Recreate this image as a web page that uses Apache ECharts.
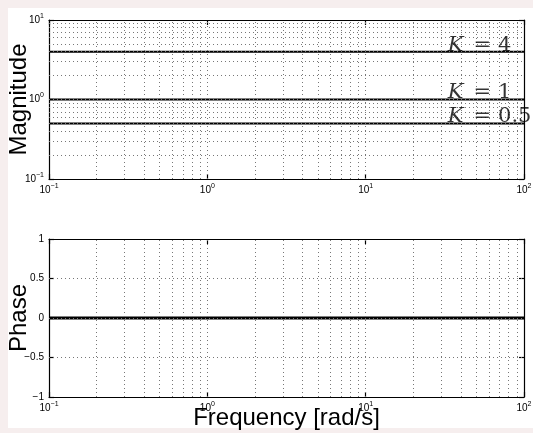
<!DOCTYPE html>
<html lang="en">
<head>
	<meta charset="UTF-8">
	<script src="https://cdn.jsdelivr.net/npm/echarts@6/dist/echarts.min.js"></script>
	<style>
		html, body { margin: 0; padding: 0; background: #f6eeee; }
		#main { width: 533px; height: 433px; }
	</style>
</head>
<body>
	<div id="main"></div>
	<script>
		// data
		var freq = [0.1, 100];
		var gains = [4, 1, 0.5];
		var gainText = ['4', '1', '0.5'];
		var labelFreq = 33;
		var phase = [0, 0];

		// grid positions (dotted lines like matlab "grid on")
		var gridFreq = [0.2, 0.3, 0.4, 0.5, 0.6, 0.7, 0.8, 0.9, 1, 2, 3, 4, 5, 6, 7, 8, 9, 10, 20, 30, 40, 50, 60, 70, 80, 90];
		var gridMag = [0.2, 0.3, 0.4, 0.5, 0.6, 0.7, 0.8, 0.9, 1, 2, 3, 4, 5, 6, 7, 8, 9];
		var gridPhase = [-0.5, 0, 0.5];

		var chart = echarts.init(document.getElementById('main'));

		var dotted = { color: '#777', width: 1, type: [1, 3] };
		var black = { color: '#000', width: 1.2 };

		function pow10(v) {
			var e = Math.round(Math.log(v) / Math.LN10);
			return '{b|10}{s|' + (e < 0 ? '\u2212' + (-e) : e) + '}';
		}
		function signed(v) {
			return v < 0 ? '\u2212' + (-v) : String(v);
		}
		var tickRich = {
			b: { fontSize: 10, fontFamily: 'Liberation Sans', color: '#000' },
			s: { fontSize: 7, fontFamily: 'Liberation Sans', color: '#000', padding: [0, 0, 8, 0] }
		};

		function xAx(grid, pos, labels) {
			return {
				type: 'log', logBase: 10, min: 0.1, max: 100, gridIndex: grid, position: pos,
				splitNumber: 3,
				axisLine: { show: true, onZero: false, lineStyle: black },
				axisTick: { show: true, inside: true, length: 5, lineStyle: black },
				axisLabel: { show: labels, margin: 4, formatter: pow10, rich: tickRich },
				splitLine: { show: false }
			};
		}

		var nameStyle = { fontSize: 24, fontFamily: 'Liberation Sans', color: '#000' };

		var option = {
			animation: false,
			backgroundColor: '#f6eeee',
			graphic: [{
				type: 'rect', z: -10, silent: true,
				shape: { x: 8, y: 8, width: 525, height: 420 },
				style: { fill: '#fff' }
			}],
			grid: [
				{ left: 49, top: 20, width: 475, height: 159, containLabel: false, outerBoundsMode: 'none' },
				{ left: 49, top: 239, width: 475, height: 158, containLabel: false, outerBoundsMode: 'none' }
			],
			xAxis: [
				xAx(0, 'bottom', true),
				xAx(0, 'top', false),
				Object.assign(xAx(1, 'bottom', true), {
					name: 'Frequency [rad/s]', nameLocation: 'middle', nameGap: 9,
					nameMoveOverlap: false, nameTextStyle: nameStyle
				}),
				xAx(1, 'top', false)
			],
			yAxis: [
				{
					type: 'log', logBase: 10, min: 0.1, max: 10, gridIndex: 0, position: 'left',
					name: 'Magnitude', nameLocation: 'middle', nameGap: 18, nameRotate: 90,
					nameMoveOverlap: false, nameTextStyle: nameStyle,
					axisLine: { show: true, lineStyle: black },
					axisTick: { show: true, inside: true, length: 5, lineStyle: black },
					axisLabel: { margin: 5, formatter: pow10, rich: tickRich },
					splitLine: { show: false }
				},
				{
					type: 'log', logBase: 10, min: 0.1, max: 10, gridIndex: 0, position: 'right',
					axisLine: { show: true, lineStyle: black },
					axisTick: { show: true, inside: true, length: 5, lineStyle: black },
					axisLabel: { show: false },
					splitLine: { show: false }
				},
				{
					type: 'value', min: -1, max: 1, interval: 0.5, gridIndex: 1, position: 'left',
					name: 'Phase', nameLocation: 'middle', nameGap: 18, nameRotate: 90,
					nameMoveOverlap: false, nameTextStyle: nameStyle,
					axisLine: { show: true, onZero: false, lineStyle: black },
					axisTick: { show: true, inside: true, length: 5, lineStyle: black },
					axisLabel: { margin: 5, formatter: signed, fontSize: 10, fontFamily: 'Liberation Sans', color: '#000' },
					splitLine: { show: false }
				},
				{
					type: 'value', min: -1, max: 1, interval: 0.5, gridIndex: 1, position: 'right',
					axisLine: { show: true, onZero: false, lineStyle: black },
					axisTick: { show: true, inside: true, length: 5, lineStyle: black },
					axisLabel: { show: false },
					splitLine: { show: false }
				}
			],
			series: [
				// dotted grid, magnitude
				{
					type: 'line', xAxisIndex: 0, yAxisIndex: 0, data: [], z: 1, silent: true,
					markLine: {
						silent: true, symbol: 'none', label: { show: false }, lineStyle: dotted, animation: false,
						data: gridFreq.map(function (f) { return { xAxis: f }; })
							.concat(gridMag.map(function (m) { return { yAxis: m }; }))
					}
				},
				// dotted grid, phase
				{
					type: 'line', xAxisIndex: 2, yAxisIndex: 2, data: [], z: 1, silent: true,
					markLine: {
						silent: true, symbol: 'none', label: { show: false }, lineStyle: dotted, animation: false,
						data: gridFreq.map(function (f) { return { xAxis: f }; })
							.concat(gridPhase.map(function (p) { return { yAxis: p }; }))
					}
				}
			].concat(gains.map(function (g) {
				return {
					type: 'line', xAxisIndex: 0, yAxisIndex: 0, z: 3, silent: true,
					showSymbol: false, lineStyle: { color: '#000', width: 2 },
					data: freq.map(function (f) { return [f, g]; })
				};
			})).concat([
				{
					type: 'line', xAxisIndex: 2, yAxisIndex: 2, z: 3, silent: true,
					showSymbol: false, lineStyle: { color: '#000', width: 2.8 },
					data: freq.map(function (f, i) { return [f, phase[i]]; })
				},
				{
					type: 'scatter', xAxisIndex: 0, yAxisIndex: 0, z: 5, silent: true,
					symbolSize: 0,
					data: gains.map(function (g, i) {
						return {
							value: [labelFreq, g],
							label: { formatter: '{k|K}{o|=}{n|' + gainText[i] + '}' }
						};
					}),
					label: {
						show: true, position: [0, 4], align: 'left', verticalAlign: 'bottom',
						rich: {
							k: { fontSize: 21, fontStyle: 'italic', fontFamily: 'DejaVu Serif', color: '#000' },
							o: { fontSize: 21, fontFamily: 'DejaVu Serif', color: '#000', padding: [0, 7, 0, 10] },
							n: { fontSize: 21, fontFamily: 'DejaVu Serif', color: '#000' }
						}
					}
				}
			])
		};

		chart.setOption(option);
	</script>
</body>
</html>
